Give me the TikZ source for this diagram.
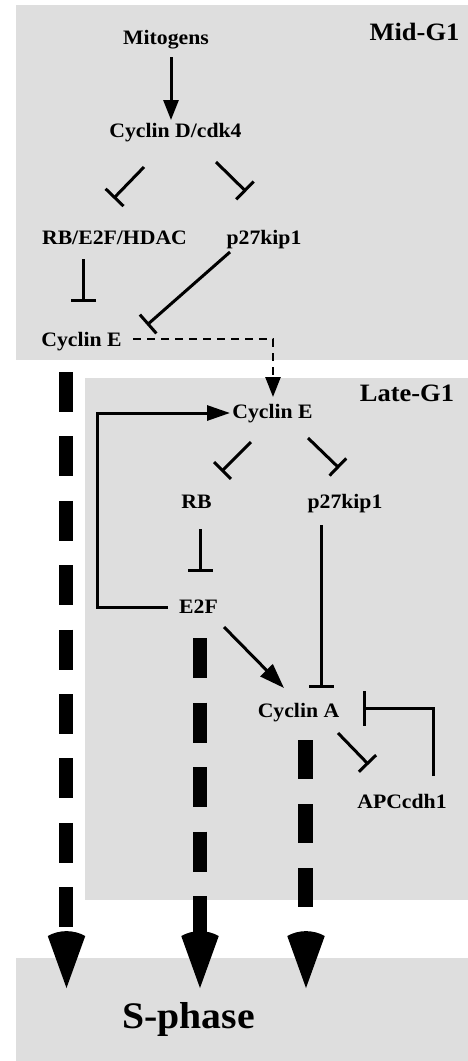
\documentclass[tikz,border=0pt]{standalone}
\usepackage{fontspec}
\setmainfont{Liberation Serif}[FakeStretch=1.06]
\usetikzlibrary{arrows.meta,calc}
\begin{document}
\begin{tikzpicture}[x=1pt,y=-1pt,
  lbl/.style={inner sep=0pt, anchor=base, font=\fontsize{20.5}{24}\selectfont\bfseries},
  phase/.style={inner sep=0pt, anchor=base, font=\fontsize{25}{30}\selectfont\bfseries},
  sphasestyle/.style={inner sep=0pt, anchor=base, font=\fontsize{37.5}{44}\selectfont\bfseries},
  region/.style={fill=black!13, draw=none},
  act/.style={line width=3pt, -{Triangle[length=20pt,width=15pt]}},
  inh/.style={line width=3pt, -{Bar[width=25pt]}},
  thin dash/.style={line width=2.5pt, dash pattern=on 8pt off 6pt, -{Triangle[length=20pt,width=15pt]}},
  sshaft/.style={line width=14.5pt},
  pics/sarrow/.style={code={\fill[black] (-18.75,-52) .. controls (-7,-58.5) and (7,-58.5) .. (18.75,-52) -- (0,0) -- cycle;}}]
\useasboundingbox (0,0) rectangle (468,1061);
% shaded phases
\path[region] (16,5) rectangle (468,360);
\path[region] (85,378) rectangle (468,900);
\path[region] (16,958) rectangle (468,1061);
% labels
\node[lbl] (mito) at (166,44) {Mitogens};
\node[phase] (mid) at (414.5,40) {Mid-G1};
\node[lbl] (cycd) at (175.5,137) {Cyclin D/cdk4};
\node[lbl] (rbe) at (114.5,244) {RB/E2F/HDAC};
\node[lbl] (p27a) at (264,244) {p27kip1};
\node[lbl] (cyce1) at (81.5,346) {Cyclin E};
\node[phase] (late) at (407,401) {Late-G1};
\node[lbl] (cyce2) at (272.5,418) {Cyclin E};
\node[lbl] (rb) at (196.5,508) {RB};
\node[lbl] (p27b) at (345,508) {p27kip1};
\node[lbl] (e2f) at (198.5,613) {E2F};
\node[lbl] (cyca) at (298.5,717) {Cyclin A};
\node[lbl] (apc) at (402,808) {APCcdh1};
\node[sphasestyle] (sph) at (188.5,1028) {S-phase};
% Mid-G1 connectors
\draw[act] ([shift={(5,13)}]mito.base) -- ([shift={(-4.5,-17)}]cycd.base);
\draw[inh] ([shift={(-31.5,30)}]cycd.base) -- ([shift={(-1,-45.5)}]rbe.base);
\draw[inh] ([shift={(40.5,25)}]cycd.base) -- ([shift={(-18,-52.5)}]p27a.base);
\draw[inh] ([shift={(-31,15)}]rbe.base) -- ([shift={(2,-44)}]cyce1.base);
\draw[inh] ([shift={(-34,8)}]p27a.base) -- ([shift={(65.5,-21)}]cyce1.base);
\draw[thin dash] ([shift={(51.5,-7)}]cyce1.base) -| ([shift={(0.5,-21)}]cyce2.base);
% Late-G1 connectors
\draw[line width=3pt, -{Triangle[length=23pt,width=15pt]}] ([shift={(-30.5,-6)}]e2f.base) -- ++(-71,0) |- ([shift={(-42.5,-5)}]cyce2.base);
\draw[inh, -{Bar[width=24pt]}] ([shift={(-21.5,24)}]cyce2.base) -- ([shift={(25,-36.5)}]rb.base);
\draw[inh, -{Bar[width=24pt]}] ([shift={(35.5,20)}]cyce2.base) -- ([shift={(-6,-40)}]p27b.base);
\draw[inh] ([shift={(3.5,21)}]rb.base) -- ([shift={(1.5,-41)}]e2f.base);
\draw[inh] ([shift={(-24,17)}]p27b.base) -- ([shift={(22.5,-29)}]cyca.base);
\draw[line width=3pt, -{Triangle[length=25pt,width=17pt]}] ([shift={(25.5,14)}]e2f.base) -- ([shift={(-14.5,-29)}]cyca.base);
\draw[inh, -{Bar[width=35pt]}] ([shift={(31,-32)}]apc.base) |- ([shift={(64.5,-9)}]cyca.base);
\draw[inh, -{Bar[width=24pt]}] ([shift={(39.5,16)}]cyca.base) -- ([shift={(-33.5,-43.5)}]apc.base);
% thick dashed arrows to S-phase
\draw[sshaft, dash pattern=on 40pt off 24.4pt] ([shift={(-15.5,26)}]cyce1.base) -- ([shift={(-122.5,-101)}]sph.base);
\pic at ([shift={(-122,-40)}]sph.base) {sarrow};
\draw[sshaft, dash pattern=on 40pt off 24.5pt] ([shift={(1.5,25)}]e2f.base) -- ([shift={(11.5,-95)}]sph.base);
\pic at ([shift={(11.5,-40)}]sph.base) {sarrow};
\draw[sshaft, dash pattern=on 39pt off 25pt] ([shift={(7,23)}]cyca.base) -- ([shift={(117,-119)}]sph.base);
\pic at ([shift={(117.5,-40)}]sph.base) {sarrow};
\end{tikzpicture}
\end{document}
